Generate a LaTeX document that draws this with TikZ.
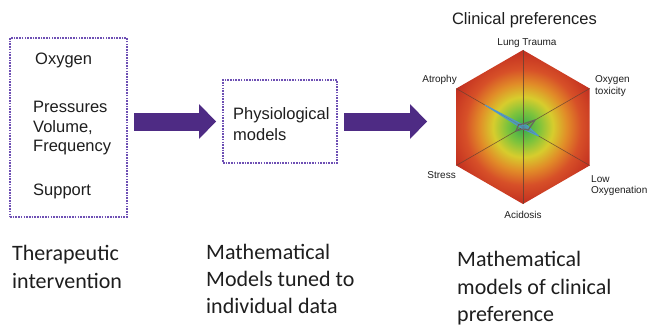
\documentclass[tikz,border=0pt]{standalone}
\usepackage{fontspec}
\setmainfont{Liberation Sans}
\newfontfamily\calib{Carlito}
\usetikzlibrary{arrows.meta}
\definecolor{arrowpurple}{RGB}{78,43,132}
\definecolor{boxpurple}{RGB}{110,80,180}
\definecolor{txt}{RGB}{30,30,30}
\definecolor{spokecol}{RGB}{100,65,50}
\definecolor{radarblue}{RGB}{80,150,205}
\definecolor{radargray}{RGB}{105,100,95}
\definecolor{hgA}{RGB}{50,170,80}
\definecolor{hgB}{RGB}{125,195,60}
\definecolor{hgC}{RGB}{215,205,45}
\definecolor{hgD}{RGB}{225,140,40}
\definecolor{hgE}{RGB}{215,80,40}
\definecolor{hgF}{RGB}{195,48,32}
\pgfdeclareradialshading{hexshade}{\pgfpoint{0bp}{0bp}}{%
color(0bp)=(hgA); color(4bp)=(hgB); color(7.5bp)=(hgC); color(11bp)=(hgD);
color(14.5bp)=(hgE); color(19bp)=(hgF); color(50bp)=(hgF)}
\begin{document}
\begin{tikzpicture}[x=1pt,y=-1pt,
  dotbox/.style={draw=boxpurple, line width=2pt, dash pattern=on 1.6pt off 1.1pt, inner sep=0pt},
  bigarrow/.style={draw=arrowpurple, line width=18pt,
     -{Triangle[length=17pt,width=35pt,line width=0pt]}},
  boxtext/.style={font=\fontsize{16.5}{20}\selectfont, text=txt, anchor=base west, inner sep=0pt},
  captext/.style={font=\calib\fontsize{22}{27}\selectfont, text=txt, anchor=base west, inner sep=0pt},
  hexlabel/.style={font=\fontsize{10}{12}\selectfont, text=txt, inner sep=0pt},
  spokeline/.style={draw=spokecol, line width=0.6pt, opacity=0.8}]
\useasboundingbox[fill=white] (0,0) rectangle (656,329);

% boxes
\node[dotbox, minimum width=117pt, minimum height=179pt] (inputs) at (68.5,127.5) {};
\node[dotbox, minimum width=114pt, minimum height=83pt] (models) at (280,121.5) {};

% box texts
\node[boxtext] (t1) at (35,65) {Oxygen};
\node[boxtext] (t2) at (33,112) {Pressures};
\node[boxtext] (t3) at (33,132) {Volume,};
\node[boxtext] (t4) at (33,151) {Frequency};
\node[boxtext] (t5) at (33,195) {Support};
\node[boxtext] (m1) at (233,119) {Physiological};
\node[boxtext] (m2) at (233,140) {models};

% arrows
\coordinate (radarin) at (427,121.5);
\draw[bigarrow, shorten <=6pt, shorten >=6pt] (inputs.east |- models.west) -- (models.west);
\draw[bigarrow, shorten <=6pt] (models.east) -- (radarin);

% hexagon radar
\coordinate (hc) at (523,127);
\coordinate (vT) at (523,50);
\coordinate (vUR) at (589.7,88.5);
\coordinate (vLR) at (589.7,165.5);
\coordinate (vB) at (523,204);
\coordinate (vLL) at (456.3,165.5);
\coordinate (vUL) at (456.3,88.5);
\begin{scope}
\clip (vT) -- (vUR) -- (vLR) -- (vB) -- (vLL) -- (vUL) -- cycle;
\shade[shading=hexshade] (hc) circle (100pt);
\end{scope}
\draw[spokeline] (vT) -- (vB);
\draw[spokeline] (vUR) -- (vLL);
\draw[spokeline] (vUL) -- (vLR);

\draw[draw=radarblue, fill=radarblue, fill opacity=0.7, line width=0.9pt, line join=round]
  (523,125) -- (526.5,125) -- (538.6,136) -- (523,129) -- (521.3,128) -- (484.9,105) -- cycle;
\draw[draw=radargray, line width=1.2pt, line join=round]
  (523,124) -- (535.1,120) -- (528.2,130) -- (523,129) -- (516,131) -- (518.7,124.5) -- cycle;

% hexagon labels
\node[font=\fontsize{16.5}{20}\selectfont, text=txt, anchor=base, inner sep=0pt] (cp) at (524.5,25) {Clinical preferences};
\node[hexlabel, anchor=base] (lt) at (527,46) {Lung Trauma};
\node[hexlabel, anchor=base east] (atr) at (457,83) {Atrophy};
\node[hexlabel, anchor=base west] (oxa) at (595,83) {Oxygen};
\node[hexlabel, anchor=base west] (oxb) at (595,94) {toxicity};
\node[hexlabel, anchor=base east] (str) at (456,178) {Stress};
\node[hexlabel, anchor=base west] (lwa) at (591,182) {Low};
\node[hexlabel, anchor=base west] (lwb) at (591,193) {Oxygenation};
\node[hexlabel, anchor=base] (acd) at (523,218) {Acidosis};

% captions
\node[captext] (c1a) at (12,260) {Therapeutic};
\node[captext] (c1b) at (12,288) {intervention};
\node[captext] (c2a) at (206,259) {Mathematical};
\node[captext] (c2b) at (206,286) {Models tuned to};
\node[captext] (c2c) at (206,313) {individual data};
\node[captext] (c3a) at (457,266) {Mathematical};
\node[captext] (c3b) at (457,294) {models of clinical};
\node[captext] (c3c) at (457,321) {preference};
\end{tikzpicture}
\end{document}
